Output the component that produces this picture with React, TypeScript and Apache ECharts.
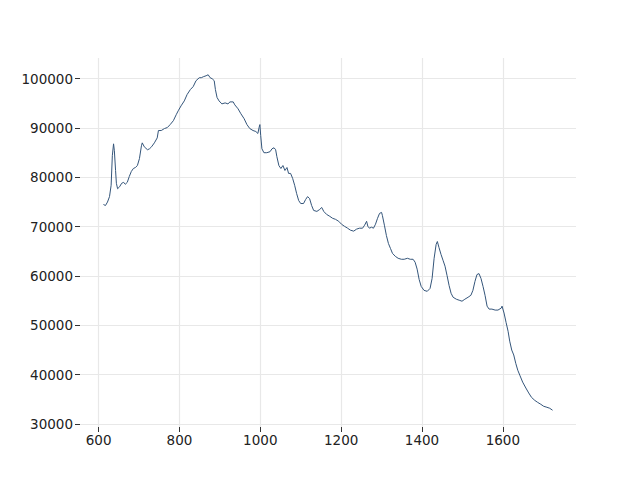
import React, { useEffect, useRef } from "react";
import * as echarts from "echarts";

const xValues = [
  612, 617, 622, 627, 631, 634, 637, 639, 642, 644, 647, 652, 657, 662, 666, 671, 676, 681, 686, 691,
  696, 701, 706, 708, 713, 721, 726, 731, 738, 745, 748, 755, 763, 770, 777, 785, 792, 797, 804, 812,
  819, 827, 834, 841, 849, 854, 859, 866, 871, 876, 881, 886, 889, 893, 898, 905, 913, 920, 925, 933,
  937, 945, 952, 960, 967, 974, 982, 989, 994, 997, 999, 1001, 1004, 1009, 1016, 1024, 1029, 1034, 1038, 1041,
  1046, 1051, 1056, 1061, 1066, 1070, 1075, 1080, 1085, 1090, 1095, 1100, 1107, 1112, 1117, 1122, 1127, 1132, 1140, 1147,
  1152, 1157, 1164, 1172, 1179, 1186, 1194, 1201, 1208, 1216, 1223, 1231, 1238, 1245, 1253, 1258, 1263, 1266, 1270, 1275,
  1280, 1285, 1290, 1295, 1300, 1302, 1307, 1312, 1317, 1322, 1327, 1334, 1341, 1349, 1356, 1364, 1371, 1378, 1383, 1388,
  1393, 1398, 1405, 1413, 1420, 1425, 1430, 1435, 1438, 1442, 1447, 1452, 1457, 1462, 1467, 1472, 1477, 1485, 1492, 1499,
  1506, 1514, 1521, 1526, 1531, 1536, 1541, 1546, 1551, 1556, 1561, 1566, 1573, 1581, 1588, 1596, 1598, 1603, 1608, 1613,
  1617, 1622, 1627, 1632, 1637, 1642, 1649, 1657, 1664, 1671, 1679, 1686, 1694, 1701, 1709, 1716, 1723,
];

const intensity = [
  74500, 74300, 75000, 76100, 78400, 84400, 86800, 85400, 81400, 78800, 77700, 78100, 78800, 79000, 78600, 79000, 80200, 81200, 81800, 82000,
  82400, 83800, 86400, 87000, 86200, 85600, 85800, 86200, 87000, 88000, 89500, 89500, 89900, 90100, 90700, 91500, 92700, 93500, 94500, 95500,
  96800, 97800, 98400, 99600, 100200, 100200, 100400, 100600, 100800, 100200, 100000, 99600, 97800, 96200, 95500, 94900, 95100, 94900, 95300, 95300,
  94700, 93900, 92900, 91900, 90700, 89900, 89500, 89300, 88900, 90100, 90700, 88500, 85800, 85000, 85000, 85200, 85800, 86000, 85600, 84200,
  82400, 81800, 82400, 81400, 82000, 80800, 80800, 79800, 78400, 76700, 75300, 74700, 74700, 75500, 76100, 75700, 74300, 73300, 73100, 73500,
  73900, 73100, 72500, 72100, 71700, 71500, 71100, 70500, 70100, 69700, 69300, 69100, 69500, 69700, 69700, 70300, 71100, 70100, 69700, 69900,
  69700, 70500, 71700, 72700, 72900, 72300, 70300, 68200, 66600, 65600, 64600, 64000, 63600, 63400, 63400, 63600, 63400, 63400, 62800, 61400,
  59300, 57900, 57100, 56900, 57500, 59500, 63600, 66400, 67000, 65800, 64400, 63200, 62000, 60100, 58100, 56500, 55700, 55300, 55100, 54900,
  55300, 55700, 56100, 57100, 58900, 60300, 60500, 59500, 57900, 56100, 53900, 53300, 53300, 53100, 53100, 53500, 53900, 52500, 50600, 48800,
  46800, 45000, 44000, 42300, 40900, 39900, 38500, 37300, 36300, 35400, 34800, 34400, 34000, 33600, 33400, 33200, 32800,
];

const xTicks = [600, 800, 1000, 1200, 1400, 1600];
const yTicks = [30000, 40000, 50000, 60000, 70000, 80000, 90000, 100000];

export default function App() {
  const ref = useRef<HTMLDivElement>(null);
  useEffect(() => {
    if (!ref.current) return;
    const chart = echarts.init(ref.current, undefined, { renderer: "svg" });
    const data = xValues.map((x, i) => [x, intensity[i]]);
    const font = "DejaVu Sans";
    const plain = (v: number) => String(v);
    chart.setOption({
      animation: false,
      backgroundColor: "#ffffff",
      grid: { left: 80, right: 64, top: 58, bottom: 53, containLabel: false },
      xAxis: {
        type: "value",
        min: 554,
        max: 1781,
        axisLine: { show: false },
        axisTick: {
          show: true,
          customValues: xTicks,
          length: 5,
          lineStyle: { color: "#333", width: 1 },
        },
        axisLabel: {
          customValues: xTicks,
          formatter: plain,
          color: "#222",
          fontFamily: font,
          fontSize: 13.5,
          margin: 6,
        },
        splitLine: { show: true, lineStyle: { color: "#e8e8e8", width: 1.2 } },
      },
      yAxis: {
        type: "value",
        min: 29400,
        max: 104200,
        axisLine: { show: false },
        axisTick: {
          show: true,
          customValues: yTicks,
          length: 5,
          lineStyle: { color: "#333", width: 1 },
        },
        axisLabel: {
          customValues: yTicks,
          formatter: plain,
          color: "#222",
          fontFamily: font,
          fontSize: 13.5,
          margin: 7,
        },
        splitLine: { show: true, lineStyle: { color: "#e8e8e8", width: 1.2 } },
      },
      series: [
        {
          type: "line",
          data,
          showSymbol: false,
          symbol: "none",
          lineStyle: { color: "#34557a", width: 1 },
        },
      ],
    });
    return () => chart.dispose();
  }, []);
  return (
    <div
      ref={ref}
      style={{ position: "fixed", left: 0, top: 0, width: 640, height: 480 }}
    />
  );
}
